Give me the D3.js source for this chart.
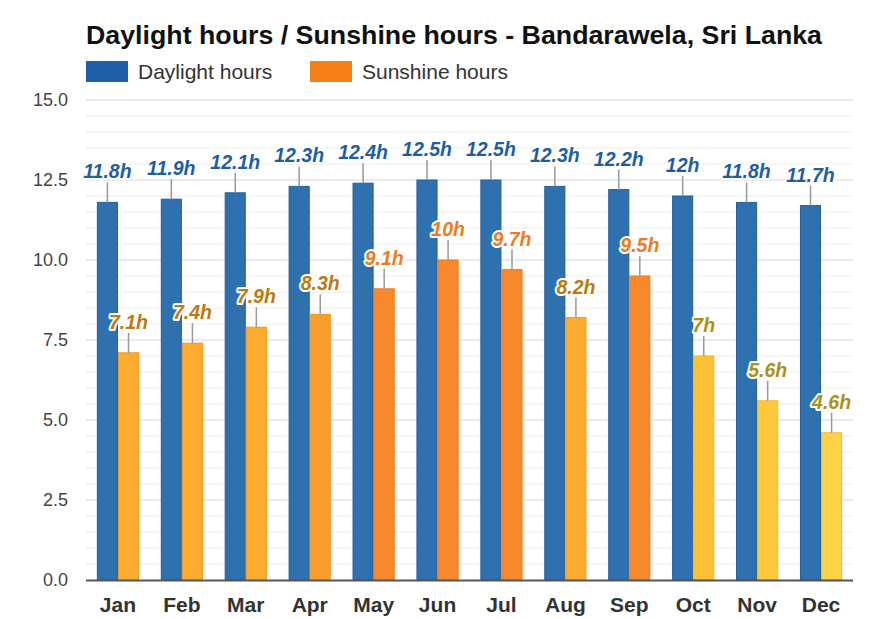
<!DOCTYPE html>
<html><head><meta charset="utf-8">
<script src="https://cdn.jsdelivr.net/npm/d3@7"></script>
<style>body{margin:0;background:#fff;} svg{display:block;font-family:"Liberation Sans",Arial,sans-serif;}</style>
</head><body>
<svg id="c" width="886" height="619"></svg>
<script>
const months = ["Jan","Feb","Mar","Apr","May","Jun","Jul","Aug","Sep","Oct","Nov","Dec"];
const daylight = [11.8,11.9,12.1,12.3,12.4,12.5,12.5,12.3,12.2,12.0,11.8,11.7];
const sunshine = [7.1,7.4,7.9,8.3,9.1,10.0,9.7,8.2,9.5,7.0,5.6,4.6];
const yTicks = [0,2.5,5,7.5,10,12.5,15];
const title = "Daylight hours / Sunshine hours - Bandarawela, Sri Lanka";
const seriesNames = ["Daylight hours","Sunshine hours"];

const svg = d3.select("#c");
const L = 86, R = 853, T = 100, B = 580;
const x = d3.scaleBand().domain(months).range([L,R]).paddingInner(0.34).paddingOuter(0.17);
const xs = d3.scaleBand().domain([0,1]).range([0,x.bandwidth()]);
const y = d3.scaleLinear().domain([0,15]).range([B,T]);

function sunFill(v){ if(v>=9) return "#f7882c"; if(v>8.2) return "#f99d2d"; if(v>7) return "#fbab30"; if(v>=6) return "#fcc134"; if(v>=5) return "#fdc93b"; return "#fed246"; }
function sunStroke(v){ if(v>=9) return "#ec7a22"; if(v>7) return "#f09a22"; return "#f2b52a"; }
function sunLabel(v){ if(v>=9) return "#f07a1e"; if(v>7) return "#bf7811"; return "#ae9018"; }

// gridlines
const minor = d3.range(0,15.01,0.5).filter(v=>Math.abs(v/2.5-Math.round(v/2.5))>1e-6);
svg.append("g").selectAll("line").data(minor).join("line")
  .attr("x1",L).attr("x2",R).attr("y1",d=>y(d)).attr("y2",d=>y(d))
  .attr("stroke","#ececec").attr("stroke-width",1);
svg.append("g").selectAll("line").data(yTicks.filter(d=>d>0)).join("line")
  .attr("x1",L).attr("x2",R).attr("y1",d=>y(d)).attr("y2",d=>y(d))
  .attr("stroke","#d6d6d6").attr("stroke-width",1);

// y axis
const ya = d3.axisLeft(y).tickValues(yTicks).tickFormat(d3.format(".1f")).tickSize(0).tickPadding(18);
const yg = svg.append("g").attr("transform",`translate(${L},0)`).call(ya);
yg.select(".domain").remove();
yg.selectAll("text").attr("font-size",18).attr("fill","#444").attr("font-family","Liberation Sans, Arial, sans-serif");

// bars
const g = svg.append("g");
months.forEach((m,i)=>{
  const gx = x(m);
  g.append("rect").attr("x",gx+xs(0)+0.5).attr("y",y(daylight[i])).attr("width",xs.bandwidth()-1).attr("height",B-y(daylight[i]))
    .attr("fill","#2f70ae").attr("stroke","#245f9a").attr("stroke-width",1);
  g.append("rect").attr("x",gx+xs(1)+0.5).attr("y",y(sunshine[i])).attr("width",xs.bandwidth()-1).attr("height",B-y(sunshine[i]))
    .attr("fill",sunFill(sunshine[i])).attr("stroke",sunStroke(sunshine[i])).attr("stroke-width",1);
});

// x axis
svg.append("line").attr("x1",L).attr("x2",R).attr("y1",B+0.5).attr("y2",B+0.5).attr("stroke","#555").attr("stroke-width",2);
const xa = d3.axisBottom(x).tickSize(0).tickPadding(17);
const xg = svg.append("g").attr("transform",`translate(0,${B})`).call(xa);
xg.select(".domain").remove();
xg.selectAll("text").attr("font-size",21).attr("font-weight","bold").attr("fill","#333").attr("font-family","Liberation Sans, Arial, sans-serif");

// labels
function fmt(v){ return (Math.round(v*10)%10===0? d3.format(".0f")(v) : d3.format(".1f")(v))+"h"; }
const lg = svg.append("g");
const halo = lg.append("g"), fore = lg.append("g");
months.forEach((m,i)=>{
  [[daylight[i],0,"#1c5ea6"],[sunshine[i],1,sunLabel(sunshine[i])]].forEach(([v,s,c])=>{
    const cx = x(m)+xs(s)+xs.bandwidth()/2;
    const top = y(v);
    halo.append("line").attr("x1",cx).attr("x2",cx).attr("y1",top).attr("y2",top-20).attr("stroke","#999").attr("stroke-width",1.5);
    [[halo,"#fff",true],[fore,c,false]].forEach(([grp,col,h])=>{
      const t = grp.append("text").attr("x",cx).attr("y",top-24).attr("text-anchor","middle")
        .attr("font-size",19.5).attr("font-weight","bold").attr("font-style","italic").attr("fill",col).text(fmt(v));
      if(h) t.attr("stroke","#fff").attr("stroke-width",4).attr("stroke-linejoin","round");
    });
  });
});

// title
svg.append("text").attr("x",86).attr("y",44).attr("font-size",26).attr("font-weight","bold").attr("fill","#111")
  .attr("textLength",736).attr("lengthAdjust","spacingAndGlyphs").text(title);
// legend
const leg = svg.append("g");
[[86,"#1f5fa8",seriesNames[0]],[310,"#f77f17",seriesNames[1]]].forEach(([lx,c,n])=>{
  leg.append("rect").attr("x",lx).attr("y",61).attr("width",42).attr("height",21).attr("fill",c);
  leg.append("text").attr("x",lx+52).attr("y",79).attr("font-size",21).attr("fill","#333").text(n);
});
</script>
</body></html>
